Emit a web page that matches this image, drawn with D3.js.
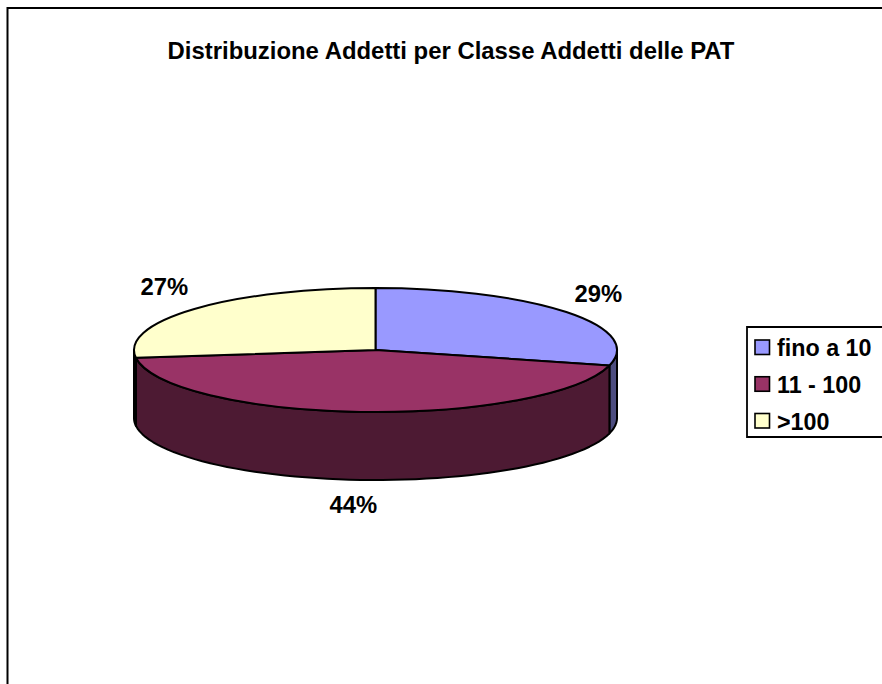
<!DOCTYPE html>
<html>
<head>
<meta charset="utf-8">
<script src="https://cdn.jsdelivr.net/npm/d3@7"></script>
<style>
html,body{margin:0;padding:0;background:#fff;overflow:hidden}
svg{display:block}
text{font-family:"Liberation Sans",Arial,sans-serif;font-weight:700;fill:#000}
</style>
</head>
<body>
<script>
const chartTitle = "Distribuzione Addetti per Classe Addetti delle PAT";
const categories = ["fino a 10", "11 - 100", ">100"];
const values = [29, 44, 27];
const topColors = ["#9999FF", "#993366", "#FFFFCC"];
const sideColors = ["#4D4D80", "#4D1A33", "#808066"];

const W = 882, H = 684;
const cx = 375.5, cy = 350, rx = 241.5, ry = 62, depth = 68;
const ink = "#000";
const svg = d3.select("body").append("svg").attr("width", W).attr("height", H);

// frame (runs off the right and bottom of the picture)
svg.append("path").attr("d", `M7.5,${H + 5}V8H${W + 5}`).attr("fill", "none").attr("stroke", ink).attr("stroke-width", 2);

svg.append("text").attr("x", 451).attr("y", 59).attr("text-anchor", "middle")
  .style("font-size", "23.9px").text(chartTitle);

const pie = d3.pie().sort(null).value(d => d);
const arcs = pie(values);
const px = a => cx + rx * Math.sin(a);
const py = (a, dz = 0) => cy - ry * Math.cos(a) + dz;

// side walls: only the front half of the rim (a between pi/2 and 3pi/2) is visible
const wallLine = d3.line();
function wall(a0, a1) {
  const n = 60, rim = d3.range(n + 1).map(i => a0 + (a1 - a0) * i / n);
  const pts = rim.map(a => [px(a), py(a)]).concat(rim.slice().reverse().map(a => [px(a), py(a, depth)]));
  return wallLine(pts) + "Z";
}
const front = [Math.PI / 2, Math.PI * 1.5];
svg.append("g").selectAll("path").data(arcs).join("path")
  .attr("d", d => {
    const a0 = Math.max(d.startAngle, front[0]), a1 = Math.min(d.endAngle, front[1]);
    return a1 > a0 ? wall(a0, a1) : null;
  })
  .attr("fill", (d, i) => sideColors[i]).attr("stroke", ink).attr("stroke-width", 2).attr("stroke-linejoin", "round");

// top face: d3.arc flattened into an ellipse
const arcGen = d3.arc().innerRadius(0).outerRadius(rx);
svg.append("g").attr("transform", `translate(${cx},${cy}) scale(1,${ry / rx})`)
  .selectAll("path").data(arcs).join("path")
  .attr("d", arcGen)
  .attr("fill", (d, i) => topColors[i])
  .attr("stroke", ink).attr("stroke-width", 2).attr("stroke-linejoin", "round")
  .attr("vector-effect", "non-scaling-stroke");

// percentage labels, placed from each slice's mid-angle on the rim
const labelOffsets = [[32, -10], [-7, 101], [-30, -14]];
svg.append("g").selectAll("text").data(arcs).join("text")
  .attr("text-anchor", "middle")
  .attr("x", (d, i) => px((d.startAngle + d.endAngle) / 2) + labelOffsets[i][0])
  .attr("y", (d, i) => py((d.startAngle + d.endAngle) / 2) + labelOffsets[i][1])
  .style("font-size", "23.8px")
  .text(d => Math.round(d.value / d3.sum(values) * 100) + "%");

// legend
const legend = svg.append("g");
const legendY = d3.scalePoint().domain(categories).range([347.5, 421]);
legend.append("path").attr("d", `M${W + 5},327H747V437H${W + 5}`).attr("fill", "#fff").attr("stroke", ink).attr("stroke-width", 1.8);
legend.selectAll("rect").data(categories).join("rect")
  .attr("x", 755).attr("y", d => legendY(d) - 7.5).attr("width", 14.5).attr("height", 14.5)
  .attr("fill", (d, i) => topColors[i]).attr("stroke", ink).attr("stroke-width", 1.6);
legend.selectAll("text").data(categories).join("text")
  .attr("x", 777).attr("y", d => legendY(d) + 8.5).style("font-size", "23.3px").text(d => d);
</script>
</body>
</html>
